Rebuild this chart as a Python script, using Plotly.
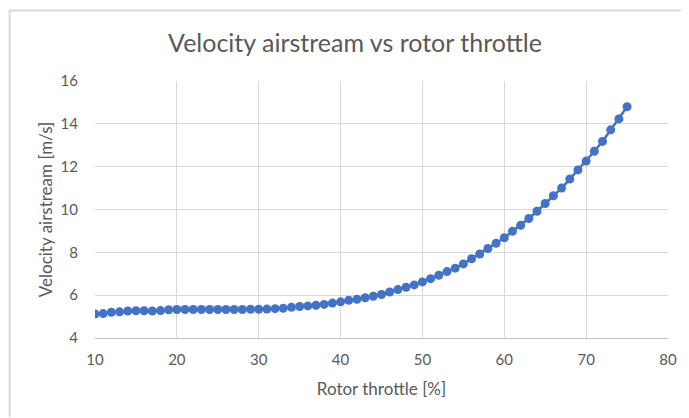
import plotly.graph_objects as go

throttle = list(range(10, 76))
velocity = [5.12, 5.14, 5.20, 5.22, 5.26, 5.27, 5.27, 5.26, 5.28, 5.32,
            5.33, 5.33, 5.33, 5.33, 5.33, 5.33, 5.33, 5.33, 5.33, 5.34,
            5.34, 5.35, 5.37, 5.39, 5.43, 5.47, 5.50, 5.53, 5.57, 5.63,
            5.69, 5.76, 5.81, 5.88, 5.95, 6.03, 6.15, 6.26, 6.37, 6.48,
            6.62, 6.77, 6.93, 7.10, 7.26, 7.46, 7.70, 7.92, 8.18, 8.42,
            8.68, 8.98, 9.26, 9.58, 9.92, 10.28, 10.64, 11.00, 11.42, 11.85,
            12.26, 12.72, 13.18, 13.72, 14.23, 14.80]

title_text = "Velocity airstream vs rotor throttle"
x_title = "Rotor throttle [%]"
y_title = "Velocity airstream [m/s]"

FONT = "Lato"
GRAY = "#595959"
BLUE = "#4472C4"

W, H = 681, 410
L, T, PW, PH = 87, 72.7, 577.5, 257.8
B = H - T - PH
R = W - L - PW


def px(fx):
    return (fx - L) / PW


def py(fy):
    return (T + PH - fy) / PH


fig = go.Figure()
fig.add_trace(go.Scatter(
    x=throttle, y=velocity, mode="lines+markers",
    line=dict(color=BLUE, width=2.5),
    marker=dict(color=BLUE, size=9),
    showlegend=False,
))

fig.update_layout(
    width=W, height=H,
    margin=dict(l=L, r=R, t=T, b=B),
    paper_bgcolor="white", plot_bgcolor="white",
    font=dict(family=FONT, color=GRAY, size=15),
    title=dict(text=title_text, x=347 / W, xanchor="center", y=1 - 35 / H, yanchor="middle",
               font=dict(family=FONT, size=25, color=GRAY)),
    xaxis=dict(range=[10, 80], dtick=10, tick0=10, showgrid=True, gridcolor="#d9d9d9",
               gridwidth=1, zeroline=False, showline=True, linecolor="#bfbfbf",
               ticks="", ticklabelstandoff=8,
               title=dict(text=x_title, standoff=16, font=dict(size=17, color=GRAY)),
               tickfont=dict(size=15, color=GRAY)),
    yaxis=dict(range=[4, 16], dtick=2, showgrid=True, gridcolor="#d9d9d9",
               gridwidth=1, zeroline=False, showline=False, ticks="",
               ticklabelstandoff=16,
               title=dict(text=y_title, standoff=3, font=dict(size=17, color=GRAY)),
               tickfont=dict(size=15, color=GRAY)),
    shapes=[
        dict(type="line", xref="paper", yref="paper",
             x0=px(0), x1=px(W), y0=py(2), y1=py(2),
             line=dict(color="#d9d9d9", width=2)),
        dict(type="line", xref="paper", yref="paper",
             x0=px(1), x1=px(1), y0=py(2), y1=py(H),
             line=dict(color="#d9d9d9", width=2)),
    ],
)

fig.write_html("out.html")
